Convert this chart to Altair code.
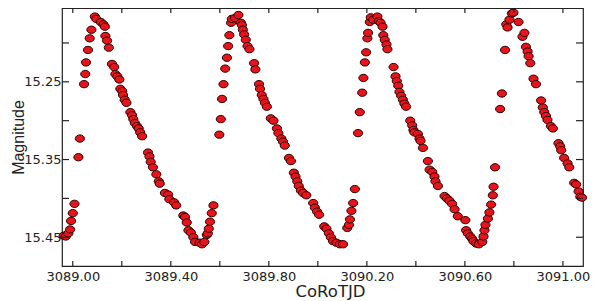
import altair as alt
import pandas as pd

# ---- data (CoRoT light curve) ----
c1_jd = [3088.963, 3088.971, 3088.982, 3088.989, 3088.993, 3089.000, 3089.007, 3089.023, 3089.029, 3089.046,
         3089.051, 3089.054, 3089.062, 3089.069, 3089.076, 3089.090, 3089.096, 3089.114, 3089.125, 3089.131,
         3089.133, 3089.140, 3089.147, 3089.160, 3089.169, 3089.174, 3089.182, 3089.190, 3089.194, 3089.202,
         3089.205, 3089.212, 3089.219, 3089.235, 3089.242, 3089.247, 3089.253, 3089.262, 3089.269, 3089.275,
         3089.283, 3089.307, 3089.313, 3089.318, 3089.327, 3089.341, 3089.351, 3089.355, 3089.376, 3089.389,
         3089.394, 3089.413, 3089.422, 3089.451, 3089.458, 3089.465, 3089.472, 3089.482, 3089.492, 3089.499,
         3089.517, 3089.527, 3089.537, 3089.547, 3089.551, 3089.555, 3089.560, 3089.567, 3089.574]
c1_mag = [15.448, 15.449, 15.445, 15.440, 15.429, 15.419, 15.407, 15.347, 15.323, 15.253,
          15.240, 15.225, 15.209, 15.194, 15.183, 15.166, 15.169, 15.173, 15.176, 15.179,
          15.191, 15.197, 15.206, 15.227, 15.231, 15.240, 15.243, 15.247, 15.259, 15.262,
          15.267, 15.273, 15.277, 15.289, 15.293, 15.298, 15.303, 15.307, 15.310, 15.315,
          15.320, 15.341, 15.346, 15.353, 15.360, 15.369, 15.378, 15.381, 15.393, 15.395,
          15.401, 15.405, 15.409, 15.422, 15.424, 15.431, 15.441, 15.444, 15.450, 15.456,
          15.457, 15.459, 15.456, 15.447, 15.445, 15.439, 15.430, 15.419, 15.409]

c2_jd = [3089.598, 3089.604, 3089.609, 3089.615, 3089.622, 3089.629, 3089.634, 3089.639, 3089.646, 3089.649,
         3089.662, 3089.676, 3089.686, 3089.690, 3089.694, 3089.699, 3089.706, 3089.713, 3089.721, 3089.740,
         3089.745, 3089.760, 3089.764, 3089.771, 3089.778, 3089.784, 3089.792, 3089.808, 3089.819, 3089.833,
         3089.839, 3089.851, 3089.858, 3089.865, 3089.882, 3089.890, 3089.902, 3089.909, 3089.916, 3089.922,
         3089.931, 3089.940, 3089.953, 3089.981, 3089.988, 3089.997, 3090.005, 3090.026, 3090.035, 3090.045,
         3090.053, 3090.062, 3090.076, 3090.090, 3090.103, 3090.120, 3090.127, 3090.131, 3090.137, 3090.144,
         3090.151]
c2_mag = [15.318, 15.298, 15.272, 15.253, 15.233, 15.219, 15.204, 15.190, 15.174, 15.169,
          15.168, 15.164, 15.174, 15.177, 15.183, 15.189, 15.196, 15.204, 15.208, 15.226,
          15.234, 15.253, 15.259, 15.267, 15.272, 15.277, 15.282, 15.297, 15.300, 15.310,
          15.316, 15.323, 15.327, 15.332, 15.348, 15.352, 15.367, 15.372, 15.378, 15.384,
          15.390, 15.393, 15.396, 15.406, 15.412, 15.417, 15.421, 15.436, 15.439, 15.445,
          15.450, 15.455, 15.457, 15.459, 15.459, 15.438, 15.434, 15.427, 15.416, 15.406,
          15.388]

c3_jd = [3090.164, 3090.171, 3090.181, 3090.186, 3090.192, 3090.197, 3090.202, 3090.205, 3090.212, 3090.216,
         3090.226, 3090.243, 3090.249, 3090.256, 3090.264, 3090.267, 3090.273, 3090.280, 3090.284, 3090.309,
         3090.317, 3090.322, 3090.328, 3090.333, 3090.340, 3090.347, 3090.353, 3090.360, 3090.377, 3090.385,
         3090.390, 3090.394, 3090.408, 3090.415, 3090.419, 3090.429, 3090.449, 3090.456, 3090.467, 3090.476,
         3090.480, 3090.490, 3090.517, 3090.527, 3090.537, 3090.548, 3090.558, 3090.571, 3090.602, 3090.605,
         3090.612, 3090.622, 3090.630, 3090.635, 3090.646, 3090.657, 3090.671, 3090.676, 3090.680, 3090.684,
         3090.694, 3090.700, 3090.707, 3090.714, 3090.717, 3090.723]
c3_mag = [15.316, 15.289, 15.264, 15.245, 15.225, 15.212, 15.194, 15.187, 15.173, 15.167,
          15.170, 15.166, 15.172, 15.174, 15.179, 15.190, 15.196, 15.202, 15.208, 15.231,
          15.243, 15.249, 15.255, 15.263, 15.268, 15.273, 15.278, 15.282, 15.300, 15.306,
          15.312, 15.315, 15.317, 15.323, 15.326, 15.335, 15.352, 15.363, 15.366, 15.372,
          15.378, 15.384, 15.397, 15.400, 15.403, 15.407, 15.414, 15.423, 15.428, 15.441,
          15.445, 15.449, 15.452, 15.455, 15.458, 15.459, 15.456, 15.449, 15.441, 15.434,
          15.426, 15.418, 15.408, 15.396, 15.385, 15.360]

c4_jd = [3090.744, 3090.751, 3090.764, 3090.769, 3090.774, 3090.782, 3090.792, 3090.798, 3090.819, 3090.835,
         3090.843, 3090.849, 3090.856, 3090.860, 3090.867, 3090.880, 3090.890, 3090.911, 3090.918, 3090.924,
         3090.931, 3090.937, 3090.951, 3090.959, 3090.982, 3090.989, 3090.993, 3091.005, 3091.019, 3091.026,
         3091.046, 3091.054, 3091.064, 3091.071, 3091.078]
c4_mag = [15.285, 15.265, 15.209, 15.176, 15.180, 15.170, 15.162, 15.161, 15.173, 15.192,
          15.187, 15.205, 15.211, 15.217, 15.226, 15.246, 15.253, 15.274, 15.283, 15.289,
          15.294, 15.299, 15.307, 15.310, 15.329, 15.333, 15.338, 15.348, 15.355, 15.360,
          15.380, 15.382, 15.391, 15.398, 15.399]

x_tick_values = [3089.0, 3089.2, 3089.4, 3089.6, 3089.8, 3090.0, 3090.2, 3090.4, 3090.6, 3090.8, 3091.0]
x_label_values = [3089.0, 3089.4, 3089.8, 3090.2, 3090.6, 3091.0]
y_tick_values = [15.20, 15.25, 15.30, 15.35, 15.40, 15.45]
y_label_values = [15.25, 15.35, 15.45]

# ---- build tables ----
pts = pd.DataFrame({"jd": c1_jd + c2_jd + c3_jd + c4_jd,
                    "mag": c1_mag + c2_mag + c3_mag + c4_mag})
xt = pd.DataFrame({"jd": x_tick_values})
yt = pd.DataFrame({"mag": y_tick_values})

W, H = 521, 258
INK = "#222222"
xscale = alt.Scale(domain=[3088.956, 3091.082], nice=False, zero=False)
yscale = alt.Scale(domain=[15.155, 15.487], nice=False, zero=False, reverse=True)
xaxis = alt.Axis(values=x_label_values, format=".2f", title="CoRoTJD",
                 labelFont="DejaVu Sans", labelFontSize=13, labelColor=INK,
                 labelPadding=4, titleFont="DejaVu Sans", titleFontSize=16.5,
                 titleFontWeight="normal", titleColor=INK, titleBaseline="alphabetic",
                 titleY=30, titleX=268, titleAnchor="middle")
yaxis = alt.Axis(values=y_label_values, format=".2f", title="Magnitude",
                 labelFont="DejaVu Sans", labelFontSize=13, labelColor=INK,
                 labelPadding=1, titleFont="Liberation Sans", titleFontSize=16,
                 titleFontWeight="normal", titleColor=INK, titleBaseline="alphabetic",
                 titleX=-39, titleY=129, titleAngle=270, titleAlign="center")
ellipse = "M -1 0 A 1 0.8 0 1 0 1 0 A 1 0.8 0 1 0 -1 0 Z"

points = alt.Chart(pts).mark_point(
    filled=True, shape=ellipse, size=84, fill="#e8141c", stroke="#2a0000",
    strokeWidth=1, opacity=1
).encode(
    x=alt.X("jd:Q", scale=xscale, axis=xaxis),
    y=alt.Y("mag:Q", scale=yscale, axis=yaxis)
)

tick_style = dict(color=INK, strokeWidth=1.2)
bottom_ticks = alt.Chart(xt).mark_rule(**tick_style).encode(
    x=alt.X("jd:Q", scale=xscale, axis=xaxis), y=alt.value(H), y2=alt.value(H - 5))
top_ticks = alt.Chart(xt).mark_rule(**tick_style).encode(
    x=alt.X("jd:Q", scale=xscale, axis=xaxis), y=alt.value(0), y2=alt.value(5))
left_ticks = alt.Chart(yt).mark_rule(**tick_style).encode(
    y=alt.Y("mag:Q", scale=yscale, axis=yaxis), x=alt.value(0), x2=alt.value(7))
right_ticks = alt.Chart(yt).mark_rule(**tick_style).encode(
    y=alt.Y("mag:Q", scale=yscale, axis=yaxis), x=alt.value(W), x2=alt.value(W - 7))

chart = alt.layer(points, bottom_ticks, top_ticks, left_ticks, right_ticks).properties(
    width=W, height=H,
    autosize=alt.AutoSizeParams(type="none"),
    padding={"left": 54, "top": 0, "right": 9, "bottom": 35},
    background="white",
).configure_view(
    stroke=INK, strokeWidth=1.2
).configure_axis(
    grid=False, domain=False, ticks=False
)

chart.save("out.html", embed_options={"renderer": "svg", "actions": False})
